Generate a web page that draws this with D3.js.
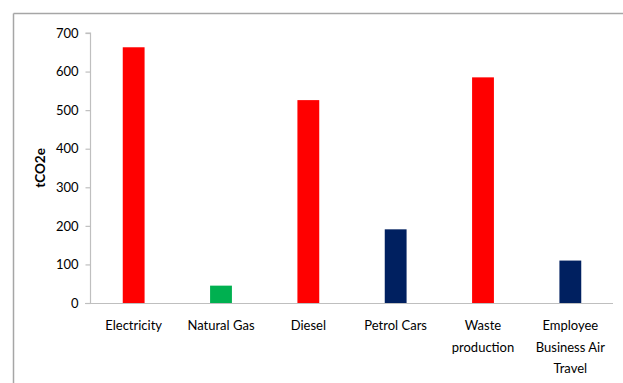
<!DOCTYPE html>
<html>
<head>
<meta charset="utf-8">
<script src="https://cdn.jsdelivr.net/npm/d3@7"></script>
<style>
  html, body { margin: 0; padding: 0; background: #fff; }
  svg { display: block; }
</style>
</head>
<body>
<svg id="chart" width="623" height="383"></svg>
<script>
const categories = [
  ["Electricity"],
  ["Natural Gas"],
  ["Diesel"],
  ["Petrol Cars"],
  ["Waste", "production"],
  ["Employee", "Business Air", "Travel"]
];
const values = [663, 45, 526, 191, 585, 110];
const barColors = ["#ff0000", "#00b050", "#ff0000", "#002060", "#ff0000", "#002060"];
const yTicks = [0, 100, 200, 300, 400, 500, 600, 700];
const yTitle = "tCO2e";

(function () {
const svg = d3.select("#chart");
const font = "Lato, 'Open Sans', sans-serif";

// outer frame (top and left edges visible)
svg.append("line").attr("x1", 13.5).attr("x2", 623).attr("y1", 13.5).attr("y2", 13.5)
  .attr("stroke", "#a6a6a6").attr("stroke-width", 1.5);
svg.append("line").attr("x1", 13.5).attr("x2", 13.5).attr("y1", 13.5).attr("y2", 383)
  .attr("stroke", "#a6a6a6").attr("stroke-width", 1.5);

const mLeft = 90, mRight = 614, mTop = 33, mBottom = 303;
const x = d3.scaleBand().domain(d3.range(categories.length)).range([mLeft, mRight])
  .paddingInner(0.75).paddingOuter(0.375);
const y = d3.scaleLinear().domain([0, 700]).range([mBottom, mTop]);

// bars
svg.append("g").selectAll("rect").data(values).join("rect")
  .attr("x", (d, i) => x(i))
  .attr("width", x.bandwidth())
  .attr("y", d => y(d))
  .attr("height", d => y(0) - y(d))
  .attr("fill", (d, i) => barColors[i]);

// y axis
const yAxis = svg.append("g").attr("transform", `translate(${mLeft + 0.5},0)`)
  .call(d3.axisLeft(y).tickValues(yTicks).tickSize(5).tickPadding(7));
yAxis.selectAll("path, line").attr("stroke", "#bfbfbf").attr("stroke-width", 1.2);
yAxis.select(".domain").attr("d", `M-5,${y(700)}H0V${y(0)}`);
yAxis.selectAll("text").attr("font-family", font).attr("font-size", 13).attr("fill", "#000");

// x axis line
svg.append("line").attr("x1", mLeft - 5).attr("x2", 613).attr("y1", mBottom + 0.5).attr("y2", mBottom + 0.5)
  .attr("stroke", "#bfbfbf").attr("stroke-width", 1.2);

// category labels
const lab = svg.append("g").selectAll("text").data(categories).join("text")
  .attr("font-family", font).attr("font-size", 13).attr("fill", "#000")
  .attr("text-anchor", "middle")
  .attr("x", (d, i) => x(i) + x.bandwidth() / 2)
  .attr("y", 330);
lab.selectAll("tspan").data(d => d).join("tspan")
  .attr("x", function () { return d3.select(this.parentNode).attr("x"); })
  .attr("dy", (d, i) => i === 0 ? 0 : 21.5)
  .text(d => d);

// y title
svg.append("text")
  .attr("transform", "translate(45,168) rotate(-90)")
  .attr("text-anchor", "middle")
  .attr("font-family", font).attr("font-size", 13.5).attr("font-weight", "bold")
  .attr("fill", "#000")
  .text(yTitle);
})();
</script>
</body>
</html>
